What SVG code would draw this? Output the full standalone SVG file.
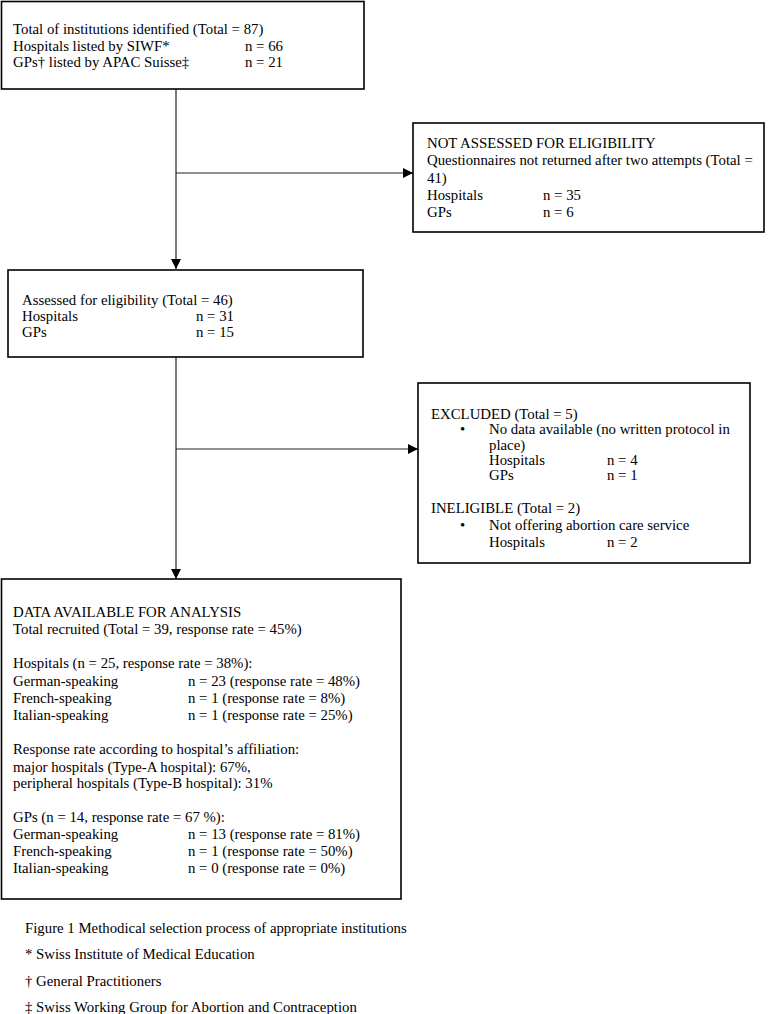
<svg xmlns="http://www.w3.org/2000/svg" width="770" height="1014" viewBox="0 0 770 1014">
<style>
text{font-family:"Liberation Serif","Times New Roman",serif;font-size:14.8px;fill:#000}
.box{fill:#fff;stroke:#000;stroke-width:1.6}
.con{fill:none;stroke:#222;stroke-width:1.2}
</style>
<defs>
<marker id="ah" viewBox="0 0 10 10" refX="10" refY="5" markerWidth="10" markerHeight="10" markerUnits="userSpaceOnUse" orient="auto">
<path d="M0,0 L10,5 L0,10 Z" fill="#000"/>
</marker>
</defs>
<rect width="770" height="1014" fill="#fff"/>
<g id="connectors">
<line class="con" x1="176" y1="89" x2="176" y2="269" marker-end="url(#ah)"/>
<line class="con" x1="176" y1="173" x2="413" y2="173" marker-end="url(#ah)"/>
<line class="con" x1="176" y1="357" x2="176" y2="579" marker-end="url(#ah)"/>
<line class="con" x1="176" y1="449" x2="418" y2="449" marker-end="url(#ah)"/>
</g>
<g id="identified">
<rect class="box" x="1.5" y="1.5" width="362.5" height="87.5"/>
<text x="13" y="34">Total of institutions identified (Total = 87)</text>
<text x="13" y="50.5">Hospitals listed by SIWF*</text><text x="245" y="50.5">n = 66</text>
<text x="13" y="67">GPs† listed by APAC Suisse‡</text><text x="245" y="67">n = 21</text>
</g>
<g id="not-assessed">
<rect class="box" x="413" y="123" width="351" height="109"/>
<text x="427" y="148">NOT ASSESSED FOR ELIGIBILITY</text>
<text x="427" y="165">Questionnaires not returned after two attempts (Total =</text>
<text x="427" y="183">41)</text>
<text x="427" y="200">Hospitals</text><text x="543" y="200">n = 35</text>
<text x="427" y="217">GPs</text><text x="543" y="217">n = 6</text>
</g>
<g id="assessed">
<rect class="box" x="8" y="270" width="355" height="87"/>
<text x="22" y="305">Assessed for eligibility (Total = 46)</text>
<text x="22" y="321">Hospitals</text><text x="196" y="321">n = 31</text>
<text x="22" y="337">GPs</text><text x="196" y="337">n = 15</text>
</g>
<g id="excluded">
<rect class="box" x="418" y="383" width="332" height="180"/>
<text x="431" y="419">EXCLUDED (Total = 5)</text>
<text x="460" y="434">•</text>
<text x="489" y="434">No data available (no written protocol in</text>
<text x="489" y="450">place)</text>
<text x="489" y="465">Hospitals</text><text x="607" y="465">n = 4</text>
<text x="489" y="480">GPs</text><text x="607" y="480">n = 1</text>
<text x="431" y="513">INELIGIBLE (Total = 2)</text>
<text x="460" y="530">•</text>
<text x="489" y="530">Not offering abortion care service</text>
<text x="489" y="547">Hospitals</text><text x="607" y="547">n = 2</text>
</g>
<g id="analysis">
<rect class="box" x="1.5" y="579" width="399.5" height="320"/>
<text x="13" y="617">DATA AVAILABLE FOR ANALYSIS</text>
<text x="13" y="634">Total recruited (Total = 39, response rate = 45%)</text>
<text x="13" y="668">Hospitals (n = 25, response rate = 38%):</text>
<text x="13" y="686">German-speaking</text><text x="188" y="686">n = 23 (response rate = 48%)</text>
<text x="13" y="703">French-speaking</text><text x="188" y="703">n = 1 (response rate = 8%)</text>
<text x="13" y="720">Italian-speaking</text><text x="188" y="720">n = 1 (response rate = 25%)</text>
<text x="13" y="754">Response rate according to hospital’s affiliation:</text>
<text x="13" y="772">major hospitals (Type-A hospital): 67%,</text>
<text x="13" y="788">peripheral hospitals (Type-B hospital): 31%</text>
<text x="13" y="822">GPs (n = 14, response rate = 67 %):</text>
<text x="13" y="839">German-speaking</text><text x="188" y="839">n = 13 (response rate = 81%)</text>
<text x="13" y="856">French-speaking</text><text x="188" y="856">n = 1 (response rate = 50%)</text>
<text x="13" y="873">Italian-speaking</text><text x="188" y="873">n = 0 (response rate = 0%)</text>
</g>
<g id="caption">
<text x="25" y="933">Figure 1 Methodical selection process of appropriate institutions</text>
<text x="25" y="959">* Swiss Institute of Medical Education</text>
<text x="25" y="986">† General Practitioners</text>
<text x="25" y="1012">‡ Swiss Working Group for Abortion and Contraception</text>
</g>
</svg>
